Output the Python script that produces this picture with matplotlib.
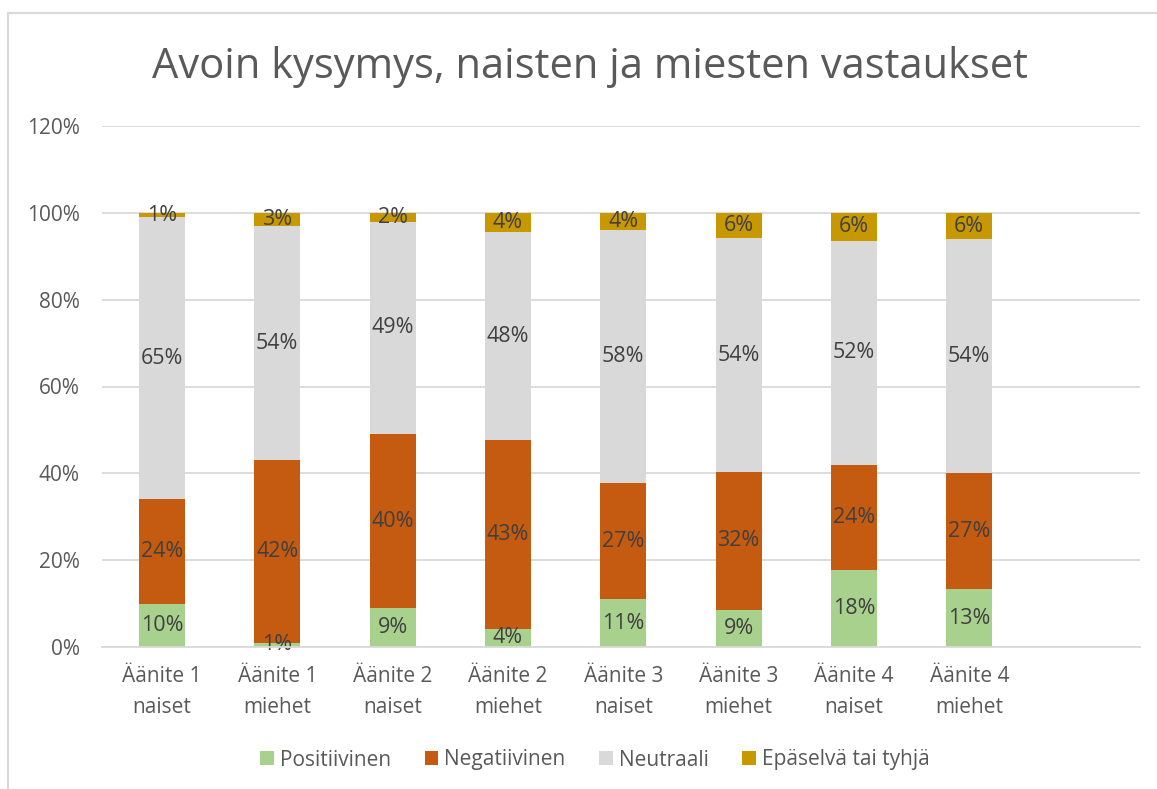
import matplotlib
matplotlib.use("Agg")
import matplotlib.pyplot as plt
from matplotlib.lines import Line2D
from matplotlib.patches import Patch

categories = ["Äänite 1\nnaiset", "Äänite 1\nmiehet", "Äänite 2\nnaiset", "Äänite 2\nmiehet",
              "Äänite 3\nnaiset", "Äänite 3\nmiehet", "Äänite 4\nnaiset", "Äänite 4\nmiehet"]
series_names = ["Positiivinen", "Negatiivinen", "Neutraali", "Epäselvä tai tyhjä"]
positiivinen = [10.0, 1.0, 9.0, 4.2, 11.0, 8.6, 17.8, 13.3]
negatiivinen = [24.0, 42.0, 40.0, 43.4, 26.7, 31.7, 24.1, 26.7]
neutraali = [65.0, 54.0, 49.0, 47.9, 58.4, 53.8, 51.7, 53.9]
epaselva = [1.0, 3.0, 2.0, 4.4, 3.9, 5.9, 6.4, 6.1]
y_ticks = [0, 20, 40, 60, 80, 100, 120]
colors = ["#A9D18E", "#C55A11", "#D9D9D9", "#C89800"]

FONT = ["Open Sans", "DejaVu Sans"]
plt.rcParams['font.family'] = FONT

fig = plt.figure(figsize=(11.57, 7.89), dpi=100)
ax = fig.add_axes([102/1157, 142/789, (1140-102)/1157, (647-126)/789])

x = list(range(len(categories)))
bottom = [0.0]*len(categories)
for vals, col, name in zip([positiivinen, negatiivinen, neutraali, epaselva], colors, series_names):
    ax.bar(x, vals, width=0.4, bottom=bottom, color=col, label=name, zorder=3)
    for xi, b, v in zip(x, bottom, vals):
        ax.text(xi, b + v/2, f"{round(v):d}%", ha="center", va="center",
                fontsize=15.5, color="#404040", zorder=4)
    bottom = [b + v for b, v in zip(bottom, vals)]

ax.set_xlim(-0.52, 8.48)
ax.set_ylim(0, 120)
ax.set_yticks(y_ticks)
ax.set_yticklabels([f"{t}%" for t in y_ticks], fontsize=15, color="#595959")
ax.set_xticks(x)
ax.set_xticklabels(categories, fontsize=15, color="#595959", linespacing=1.6)
ax.tick_params(axis="both", length=0)
ax.tick_params(axis="y", pad=16)
ax.tick_params(axis="x", pad=14)
ax.grid(axis="y", color="#D9D9D9", linewidth=1.3, zorder=0)
for s in ["top", "right", "left"]:
    ax.spines[s].set_visible(False)
ax.spines["bottom"].set_color("#D9D9D9")
ax.spines["bottom"].set_linewidth(1.3)
ax.spines["bottom"].set_zorder(5)

fig.text(590/1157, 1-67/789, "Avoin kysymys, naisten ja miesten vastaukset",
         ha="center", va="center", fontsize=30, color="#595959")

handles = [Patch(facecolor=c, edgecolor="none") for c in colors]
leg = fig.legend(handles, series_names, loc="center", bbox_to_anchor=(595/1157, 1-760/789),
                 ncol=4, frameon=False, fontsize=15, handlelength=0.65, handleheight=0.65,
                 handletextpad=0.3, columnspacing=1.6, labelcolor="#595959")

# chart border (top and left visible)
fig.add_artist(Line2D([8/1157, 1], [1-13/789, 1-13/789], color="#D9D9D9", linewidth=1.5))
fig.add_artist(Line2D([8/1157, 8/1157], [0, 1-13/789], color="#D9D9D9", linewidth=1.5))

fig.savefig("out.png", dpi=100)
